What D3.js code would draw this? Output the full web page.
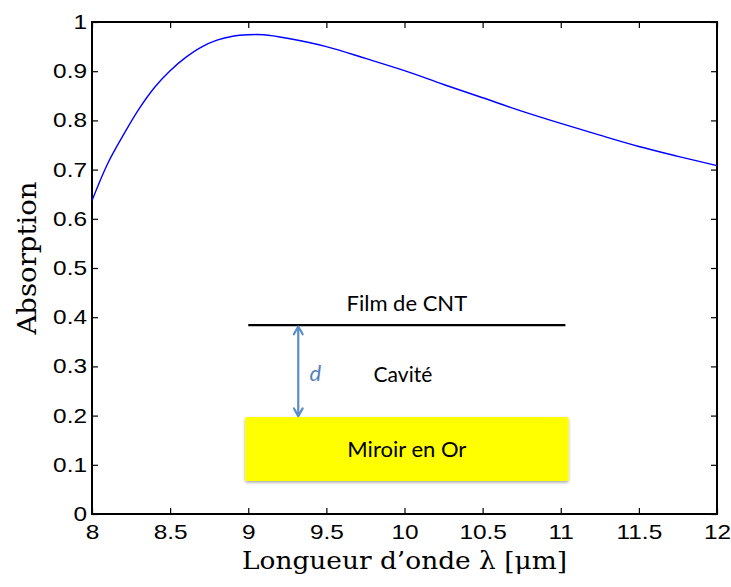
<!DOCTYPE html>
<html>
<head>
<meta charset="utf-8">
<script src="https://cdn.jsdelivr.net/npm/d3@7"></script>
<style>
  html, body { margin: 0; padding: 0; background: #fff; }
  svg { display: block; }
</style>
</head>
<body>
<svg id="chart" width="731" height="587"></svg>
<script>
// ---- data ----
const wavelength = [8.0, 8.1, 8.2, 8.3, 8.4, 8.5, 8.6, 8.7, 8.8, 8.9, 9.0, 9.1, 9.25, 9.5, 9.75, 10.0, 10.25, 10.5, 10.75, 11.0, 11.25, 11.5, 11.75, 12.0];
const absorption = [0.637, 0.712, 0.770, 0.823, 0.867, 0.901, 0.928, 0.949, 0.963, 0.971, 0.974, 0.974, 0.967, 0.950, 0.926, 0.901, 0.873, 0.846, 0.819, 0.794, 0.770, 0.747, 0.727, 0.708];
const xTicks = [8, 8.5, 9, 9.5, 10, 10.5, 11, 11.5, 12];
const xTickLabels = ["8", "8.5", "9", "9.5", "10", "10.5", "11", "11.5", "12"];
const yTicks = [0, 0.1, 0.2, 0.3, 0.4, 0.5, 0.6, 0.7, 0.8, 0.9, 1];
const yTickLabels = ["0", "0.1", "0.2", "0.3", "0.4", "0.5", "0.6", "0.7", "0.8", "0.9", "1"];
const xLabel = "Longueur d’onde λ [μm]";
const yLabel = "Absorption";
// inset diagram (in data coordinates)
const filmLine = {x0: 9.0, x1: 11.03, y: 0.384, label: "Film de CNT"};
const mirror = {x0: 8.98, x1: 11.05, y0: 0.067, y1: 0.197, label: "Miroir en Or"};
const gapArrow = {x: 9.32, y0: 0.199, y1: 0.381, label: "d"};
const cavityLabel = {x: 9.99, y: 0.27, label: "Cavité"};

// ---- layout ----
const svg = d3.select("#chart");
const L = 92, R = 717, T = 22, B = 514;
const x = d3.scaleLinear().domain([8, 12]).range([L, R]);
const y = d3.scaleLinear().domain([0, 1]).range([B, T]);

const tickFont = "Arial, 'Liberation Sans', Helvetica, sans-serif";
const stretch = 1.22;

// axes (ticks inward)
const gx = svg.append("g").attr("transform", `translate(0,${B})`)
  .call(d3.axisBottom(x).tickValues(xTicks).tickFormat((d,i) => xTickLabels[i]).tickSizeInner(-6).tickSizeOuter(0).tickPadding(12));
const gxTop = svg.append("g").attr("transform", `translate(0,${T})`)
  .call(d3.axisTop(x).tickValues(xTicks).tickFormat("").tickSizeInner(-6).tickSizeOuter(0));
const gy = svg.append("g").attr("transform", `translate(${L},0)`)
  .call(d3.axisLeft(y).tickValues(yTicks).tickFormat((d,i) => yTickLabels[i]).tickSizeInner(-6).tickSizeOuter(0).tickPadding(5));
const gyR = svg.append("g").attr("transform", `translate(${R},0)`)
  .call(d3.axisRight(y).tickValues(yTicks).tickFormat("").tickSizeInner(-6).tickSizeOuter(0));

[gx, gxTop, gy, gyR].forEach(g => {
  g.attr("font-family", tickFont).attr("font-size", 20);
  g.select(".domain").remove();
  g.selectAll(".tick line").attr("stroke", "#000").attr("stroke-width", 1.2);
  g.selectAll("text").attr("fill", "#000");
});
gx.selectAll("text").attr("dy", "0.71em").attr("y", 11).attr("transform", `scale(${stretch},1)`);
gy.selectAll("text").attr("x", -5 / stretch).attr("transform", `scale(${stretch},1)`);

// frame
svg.append("rect").attr("x", L).attr("y", T).attr("width", R - L).attr("height", B - T)
  .attr("fill", "none").attr("stroke", "#000").attr("stroke-width", 2);

// data line
const line = d3.line().x((d, i) => x(wavelength[i])).y(d => y(d)).curve(d3.curveCatmullRom.alpha(0.5));
svg.append("path").datum(absorption).attr("d", line)
  .attr("fill", "none").attr("stroke", "#0000ff").attr("stroke-width", 1.4);

// axis labels
const serif = "'DejaVu Serif', 'Liberation Serif', serif";
svg.append("text").attr("x", (L + R) / 2).attr("y", 569).attr("text-anchor", "middle")
  .style("font-family", serif).style("font-size", "25px")
  .attr("textLength", 325).attr("lengthAdjust", "spacingAndGlyphs").text(xLabel);
svg.append("text").attr("transform", "translate(36,258) rotate(-90)").attr("text-anchor", "middle")
  .style("font-family", serif).style("font-size", "26px")
  .attr("textLength", 153).attr("lengthAdjust", "spacingAndGlyphs").text(yLabel);

// ---- inset diagram ----
const diaFont = "Lato, 'Open Sans', sans-serif";
const defs = svg.append("defs");
const f = defs.append("filter").attr("id", "shadow").attr("x", "-5%").attr("y", "-10%").attr("width", "110%").attr("height", "130%");
f.append("feDropShadow").attr("dx", 0).attr("dy", 1.5).attr("stdDeviation", 1.5).attr("flood-color", "#000").attr("flood-opacity", 0.35);
["start", "end"].forEach(k => {
  defs.append("marker").attr("id", "arr-" + k).attr("viewBox", "0 0 10 10")
    .attr("refX", 8.5).attr("refY", 5).attr("markerWidth", 5).attr("markerHeight", 5)
    .attr("orient", k === "end" ? "auto" : "auto-start-reverse")
    .append("path").attr("d", "M1.5,1 L8.5,5 L1.5,9").attr("fill", "none").attr("stroke", "#5a8dc8")
    .attr("stroke-width", 2).attr("stroke-linejoin", "round").attr("stroke-linecap", "round");
});

svg.append("line").attr("x1", x(filmLine.x0)).attr("x2", x(filmLine.x1))
  .attr("y1", y(filmLine.y)).attr("y2", y(filmLine.y)).attr("stroke", "#000").attr("stroke-width", 2.2);
svg.append("text").attr("x", x((filmLine.x0 + filmLine.x1) / 2)).attr("y", y(filmLine.y) - 14)
  .attr("text-anchor", "middle").style("font-family", diaFont).style("font-size", "22px").text(filmLine.label);

svg.append("rect").attr("x", x(mirror.x0)).attr("y", y(mirror.y1))
  .attr("width", x(mirror.x1) - x(mirror.x0)).attr("height", y(mirror.y0) - y(mirror.y1))
  .attr("rx", 2).attr("fill", "#ffff00").attr("filter", "url(#shadow)");
svg.append("text").attr("x", x((mirror.x0 + mirror.x1) / 2)).attr("y", (y(mirror.y0) + y(mirror.y1)) / 2 + 8)
  .attr("text-anchor", "middle").style("font-family", diaFont).style("font-size", "22px").text(mirror.label);

svg.append("line").attr("x1", x(gapArrow.x)).attr("x2", x(gapArrow.x))
  .attr("y1", y(gapArrow.y1)).attr("y2", y(gapArrow.y0))
  .attr("stroke", "#5a8dc8").attr("stroke-width", 2.2)
  .attr("marker-start", "url(#arr-start)").attr("marker-end", "url(#arr-end)");
svg.append("text").attr("x", x(gapArrow.x) + 17).attr("y", 381).attr("text-anchor", "middle")
  .style("font-family", diaFont).style("font-style", "italic").style("font-size", "22px")
  .attr("fill", "#4f81bd").text(gapArrow.label);
svg.append("text").attr("x", x(cavityLabel.x)).attr("y", 382).attr("text-anchor", "middle")
  .style("font-family", diaFont).style("font-size", "21px").text(cavityLabel.label);
</script>
</body>
</html>
